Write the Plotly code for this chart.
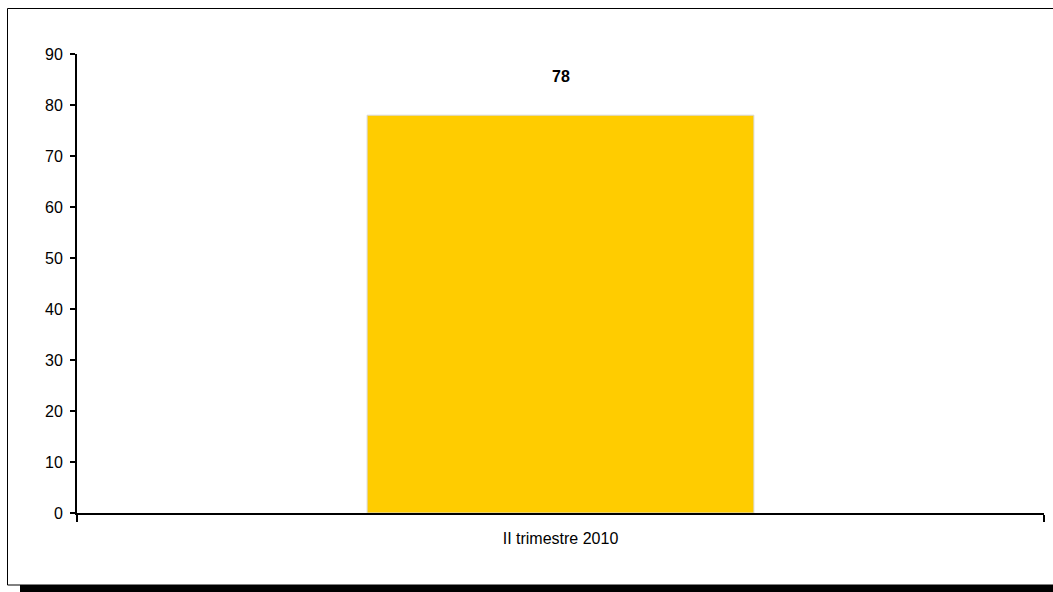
import plotly.graph_objects as go

categories = ["II trimestre 2010"]
values = [78]
y_ticks = [0, 10, 20, 30, 40, 50, 60, 70, 80, 90]

W, H = 1053, 592
L, R, T, B = 77, 9, 54, 79
pw, ph = W - L - R, H - T - B

def px(x):
    return (x - L) / pw

def py(y):
    return (H - B - y) / ph

fig = go.Figure()
fig.add_trace(go.Bar(
    x=categories, y=values, width=0.4,
    marker=dict(color="#FFCC00", line=dict(color="#D8D8D8", width=1)),
    hoverinfo="skip",
))
for c, v in zip(categories, values):
    fig.add_annotation(x=c, y=v, text=f"<b>{v}</b>", showarrow=False,
                       yshift=39, font=dict(size=16, color="#000000",
                                            family="Liberation Sans, Arial"))

fig.update_layout(
    width=W, height=H,
    margin=dict(l=L, r=R, t=T, b=B),
    paper_bgcolor="white", plot_bgcolor="white",
    showlegend=False,
    font=dict(family="Liberation Sans, Arial", size=16, color="#000000"),
    bargap=0.6,
    xaxis=dict(range=[-0.5, 0.5], showline=True, linecolor="black", linewidth=2,
               ticks="outside", tickson="boundaries", ticklen=7, tickwidth=2,
               tickcolor="black", showgrid=False, zeroline=False,
               tickfont=dict(size=16), ticklabelstandoff=10),
    yaxis=dict(range=[0, 90], tickvals=y_ticks, showline=True, linecolor="black",
               linewidth=2, ticks="outside", ticklen=5, tickwidth=2,
               tickcolor="black", showgrid=False, zeroline=False,
               tickfont=dict(size=16), ticklabelstandoff=4),
    shapes=[
        dict(type="rect", xref="paper", yref="paper",
             x0=px(7.5), x1=px(1060), y0=py(8.5), y1=py(585),
             line=dict(color="black", width=1), fillcolor="rgba(0,0,0,0)", layer="below"),
        dict(type="rect", xref="paper", yref="paper",
             x0=px(20), x1=px(1060), y0=py(585), y1=py(595),
             line=dict(width=0), fillcolor="black"),
    ],
)

fig.write_html("out.html", config={"displayModeBar": False, "staticPlot": True},
               post_script="document.body.style.margin='0';document.body.style.overflow='hidden';")
